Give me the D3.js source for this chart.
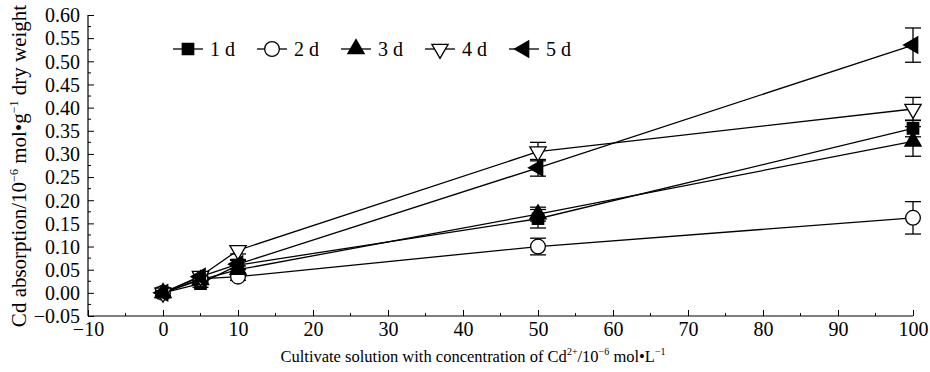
<!DOCTYPE html>
<html>
<head>
<meta charset="utf-8">
<script src="https://cdn.jsdelivr.net/npm/d3@7"></script>
<style>
  html, body { margin: 0; padding: 0; background: #fff; }
</style>
</head>
<body>
<svg id="chart" width="930" height="372"></svg>
<script>
// concentrations (x) and Cd absorption per day
const concentrations = [0, 5, 10, 50, 100];

const day1 = [0, 0.020, 0.060, 0.160, 0.355];
const day2 = [0, 0.030, 0.035, 0.100, 0.162];
const day3 = [0, 0.028, 0.050, 0.170, 0.327];
const day4 = [0, 0.036, 0.092, 0.305, 0.397];
const day5 = [0, 0.035, 0.062, 0.270, 0.535];

const err1 = [0.006, 0.008, 0.010, 0.020, 0.018];
const err2 = [0.006, 0.006, 0.008, 0.018, 0.035];
const err3 = [0.006, 0.006, 0.008, 0.015, 0.032];
const err4 = [0.010, 0.008, 0.008, 0.020, 0.025];
const err5 = [0.010, 0.008, 0.010, 0.018, 0.037];

const seriesNames = ["1 d", "2 d", "3 d", "4 d", "5 d"];

const xTicks = [-10, 0, 10, 20, 30, 40, 50, 60, 70, 80, 90, 100];
const yTicks = [-0.05, 0, 0.05, 0.10, 0.15, 0.20, 0.25, 0.30, 0.35, 0.40, 0.45, 0.50, 0.55, 0.60];

const series = [
  { name: seriesNames[0], values: day1, errs: err1, shape: d3.symbolSquare, size: 130, rotate: 0, fill: "#000" },
  { name: seriesNames[1], values: day2, errs: err2, shape: d3.symbolCircle, size: 170, rotate: 0, fill: "#fff" },
  { name: seriesNames[2], values: day3, errs: err3, shape: d3.symbolTriangle, size: 115, rotate: 0, fill: "#000" },
  { name: seriesNames[3], values: day4, errs: err4, shape: d3.symbolTriangle, size: 115, rotate: 180, fill: "#fff" },
  { name: seriesNames[4], values: day5, errs: err5, shape: d3.symbolTriangle, size: 115, rotate: -90, fill: "#000" }
];

const FONT = "'Liberation Serif'";

const svg = d3.select("#chart");
const margin = { top: 15, right: 17, bottom: 56, left: 88 };
const width = 930 - margin.left - margin.right;
const height = 372 - margin.top - margin.bottom;

const x = d3.scaleLinear().domain([-10, 100]).range([0, width]);
const y = d3.scaleLinear().domain([-0.05, 0.60]).range([height, 0]);

const g = svg.append("g").attr("transform", `translate(${margin.left},${margin.top})`);

// axes
const xAxis = g.append("g")
  .attr("transform", `translate(0,${height})`)
  .call(d3.axisBottom(x).tickValues(xTicks).tickFormat(d => d < 0 ? "\u2212" + Math.abs(d) : d).tickSize(-6).tickPadding(6));

const xMinor = d3.range(-5, 100, 10);
xAxis.selectAll(".minor").data(xMinor).enter().append("line")
  .attr("class", "minor")
  .attr("x1", d => x(d)).attr("x2", d => x(d))
  .attr("y1", 0).attr("y2", -3)
  .attr("stroke", "#000");

const yAxis = g.append("g")
  .call(d3.axisLeft(y).tickValues(yTicks)
    .tickFormat(d => (d < 0 ? "\u2212" : "") + Math.abs(d).toFixed(2))
    .tickSize(-6).tickPadding(8));

const yMinor = d3.range(-0.025, 0.6, 0.05);
yAxis.selectAll(".minor").data(yMinor).enter().append("line")
  .attr("class", "minor")
  .attr("y1", d => y(d)).attr("y2", d => y(d))
  .attr("x1", 0).attr("x2", 3)
  .attr("stroke", "#000");

[xAxis, yAxis].forEach(a => {
  a.attr("font-family", null);
  a.select(".domain").attr("stroke", "#000").attr("stroke-width", 1.2);
  a.selectAll(".tick line").attr("stroke", "#000");
  a.selectAll("text").style("font-family", FONT).style("font-size", "20px").attr("fill", "#000");
});
xAxis.select(".domain").attr("d", `M0,0H${width}`);
yAxis.select(".domain").attr("d", `M0,${height}V0`);
xAxis.selectAll(".tick text").attr("dy", "0.72em");
yAxis.selectAll(".tick text").attr("dy", "0.34em");

// lines
const line = d3.line().x((d, i) => x(concentrations[i])).y(d => y(d));
series.forEach(s => {
  g.append("path")
    .attr("d", line(s.values))
    .attr("fill", "none")
    .attr("stroke", "#000")
    .attr("stroke-width", 1.3);
});

// error bars
const cap = 8;
series.forEach(s => {
  const eb = g.append("g");
  s.values.forEach((v, i) => {
    const cx = x(concentrations[i]);
    const top = y(v + s.errs[i]);
    const bot = y(v - s.errs[i]);
    eb.append("line").attr("x1", cx).attr("x2", cx).attr("y1", top).attr("y2", bot)
      .attr("stroke", "#000").attr("stroke-width", 1.3);
    eb.append("line").attr("x1", cx - cap).attr("x2", cx + cap).attr("y1", top).attr("y2", top)
      .attr("stroke", "#000").attr("stroke-width", 1.3);
    eb.append("line").attr("x1", cx - cap).attr("x2", cx + cap).attr("y1", bot).attr("y2", bot)
      .attr("stroke", "#000").attr("stroke-width", 1.3);
  });
});

// markers
series.forEach(s => {
  const sym = d3.symbol().type(s.shape).size(s.size);
  g.append("g").selectAll("path")
    .data(s.values)
    .enter()
    .append("path")
    .attr("d", sym)
    .attr("transform", (d, i) => `translate(${x(concentrations[i])},${y(d)}) rotate(${s.rotate})`)
    .attr("fill", s.fill)
    .attr("stroke", "#000")
    .attr("stroke-width", 1.3);
});

// legend
const legend = svg.append("g").attr("transform", "translate(173,49)");
series.forEach((s, i) => {
  const lg = legend.append("g").attr("transform", `translate(${i * 84},0)`);
  lg.append("line").attr("x1", 0).attr("x2", 30).attr("y1", 0).attr("y2", 0)
    .attr("stroke", "#000").attr("stroke-width", 1.3);
  lg.append("path")
    .attr("d", d3.symbol().type(s.shape).size(s.size)())
    .attr("transform", `translate(15,0) rotate(${s.rotate})`)
    .attr("fill", s.fill).attr("stroke", "#000").attr("stroke-width", 1.3);
  lg.append("text").attr("x", 37).attr("y", 7)
    .style("font-family", FONT).style("font-size", "20px").text(s.name);
});

// axis titles
const xt = svg.append("text")
  .attr("x", 473).attr("y", 362)
  .attr("text-anchor", "middle")
  .style("font-family", FONT)
  .style("font-size", "16.5px");
xt.append("tspan").text("Cultivate solution with concentration of Cd");
xt.append("tspan").style("font-size", "10px").attr("dy", -7).text("2+");
xt.append("tspan").attr("dy", 7).text("/10");
xt.append("tspan").style("font-size", "10px").attr("dy", -7).text("\u22126");
xt.append("tspan").attr("dy", 7).text(" mol\u2022L");
xt.append("tspan").style("font-size", "10px").attr("dy", -7).text("\u22121");

const yt = svg.append("text")
  .attr("transform", "translate(26,166) rotate(-90)")
  .attr("text-anchor", "middle")
  .style("font-family", FONT)
  .style("font-size", "21px");
yt.append("tspan").text("Cd absorption/10");
yt.append("tspan").style("font-size", "12px").attr("dy", -8).text("\u22126");
yt.append("tspan").attr("dy", 8).text(" mol\u2022g");
yt.append("tspan").style("font-size", "12px").attr("dy", -8).text("\u22121");
yt.append("tspan").attr("dy", 8).text(" dry weight");
</script>
</body>
</html>
